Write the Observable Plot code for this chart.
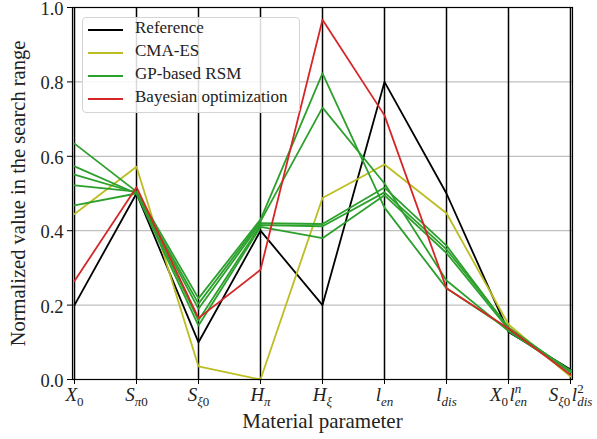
<!DOCTYPE html>
<html>
<head>
<meta charset="utf-8">
<script src="https://cdn.jsdelivr.net/npm/d3@7"></script>
<script src="https://cdn.jsdelivr.net/npm/@observablehq/plot@0.6"></script>
<style>
  body { margin: 0; background: #fff; }
  #wrap { position: relative; width: 597px; height: 439px; font-family: "Liberation Serif", serif; }
  #wrap svg, #wrap svg text { font-family: "Liberation Serif", serif !important; }
  #legend { position: absolute; left: 82px; top: 17px; width: 216px; height: 94px;
            border: 1px solid #d4d4d4; border-radius: 4px; background: rgba(255,255,255,0.85);
            font-family: "Liberation Serif", serif; font-size: 17px; color: #222; }
  .item { position: absolute; left: 0; height: 20px; }
  .item .sw { position: absolute; left: 5px; width: 35px; top: 0; height: 0; border-top: 2px solid; }
  .item .lb { position: absolute; left: 52px; top: -11px; white-space: nowrap; }
</style>
</head>
<body>
<div id="wrap"><div id="legend"></div></div>
<script>
// ---- data ----
const categories = ["X0", "Sπ0", "Sξ0", "Hπ", "Hξ", "len", "ldis", "X0 len^n", "Sξ0 ldis^2"];
const seriesNames = ["Reference", "CMA-ES", "GP-based RSM", "Bayesian optimization"];
const seriesColors = ["#000000", "#bcbd22", "#2ca02c", "#d62728"];
const yTicks = [0, 0.2, 0.4, 0.6, 0.8, 1.0];
const gridValues = [0.2, 0.4, 0.6, 0.8];

const reference = [0.20, 0.50, 0.10, 0.40, 0.20, 0.80, 0.50, 0.128, 0.027];
const cmaes     = [0.445, 0.572, 0.035, 0.0, 0.488, 0.578, 0.447, 0.148, 0.008];
const gp1       = [0.634, 0.505, 0.218, 0.430, 0.823, 0.462, 0.245, 0.135, 0.020];
const gp2       = [0.573, 0.500, 0.204, 0.425, 0.731, 0.527, 0.266, 0.130, 0.020];
const gp3       = [0.551, 0.502, 0.190, 0.420, 0.418, 0.516, 0.360, 0.138, 0.022];
const gp4       = [0.522, 0.505, 0.159, 0.415, 0.412, 0.503, 0.350, 0.140, 0.020];
const gp5       = [0.468, 0.500, 0.145, 0.410, 0.380, 0.495, 0.340, 0.135, 0.024];
const bayes     = [0.265, 0.517, 0.165, 0.295, 0.967, 0.710, 0.245, 0.137, 0.013];

// label tokens for math-style tick labels: s = n (normal), b (subscript), p (superscript)
const tickLabelParts = {
  "X0": [{t:"X", s:"n", it:true}, {t:"0", s:"b"}],
  "Sπ0": [{t:"S", s:"n", it:true}, {t:"π", s:"b", it:true}, {t:"0", s:"b"}],
  "Sξ0": [{t:"S", s:"n", it:true}, {t:"ξ", s:"b", it:true}, {t:"0", s:"b"}],
  "Hπ": [{t:"H", s:"n", it:true}, {t:"π", s:"b", it:true}],
  "Hξ": [{t:"H", s:"n", it:true}, {t:"ξ", s:"b", it:true}],
  "len": [{t:"l", s:"n", it:true}, {t:"en", s:"b", it:true}],
  "ldis": [{t:"l", s:"n", it:true}, {t:"dis", s:"b", it:true}],
  "X0 len^n": [{t:"X", s:"n", it:true}, {t:"0", s:"b"}, {t:"\u200Al", s:"n", it:true}, {t:"n", s:"p", it:true}, {t:"en", s:"b", it:true, stack:true}],
  "Sξ0 ldis^2": [{t:"S", s:"n", it:true}, {t:"ξ", s:"b", it:true}, {t:"0", s:"b"}, {t:"\u200Al", s:"n", it:true}, {t:"2", s:"p"}, {t:"dis", s:"b", it:true, stack:true}]
};

// ---- build table ----
const runs = [
  {series: "Reference", run: "ref", values: reference},
  {series: "CMA-ES", run: "cma", values: cmaes},
  {series: "GP-based RSM", run: "gp1", values: gp1},
  {series: "GP-based RSM", run: "gp2", values: gp2},
  {series: "GP-based RSM", run: "gp3", values: gp3},
  {series: "GP-based RSM", run: "gp4", values: gp4},
  {series: "GP-based RSM", run: "gp5", values: gp5},
  {series: "Bayesian optimization", run: "bo", values: bayes}
];
const rows = runs.flatMap(r => r.values.map((v, i) => ({series: r.series, run: r.run, param: categories[i], value: v})));

const serif = "'Liberation Serif', serif";
const chart = Plot.plot({
  width: 597,
  height: 439,
  marginLeft: 72,
  marginRight: 25,
  marginTop: 7,
  marginBottom: 60,
  style: {fontFamily: serif, fontSize: "19px", color: "#222", background: "white", overflow: "visible"},
  x: {type: "point", domain: categories, padding: 0},
  y: {domain: [0, 1]},
  color: {domain: seriesNames, range: seriesColors},
  marks: [
    Plot.ruleY(gridValues, {stroke: "#b0b0b0", strokeWidth: 1}),
    Plot.ruleX(categories, {stroke: "#000", strokeWidth: 1.5}),
    Plot.line(rows, {x: "param", y: "value", z: "run", stroke: "series", strokeWidth: 1.8}),
    Plot.frame({stroke: "#000", strokeWidth: 1.2}),
    Plot.axisY({ticks: yTicks, tickFormat: d3.format(".1f"), tickSize: 5, tickPadding: 4, label: null, fontSize: 18.5, fontFamily: serif, stroke: "#000"}),
    Plot.axisX({tickSize: 5, tickPadding: 3, label: null, fontSize: 19, fontFamily: serif, stroke: "#000"}),
    Plot.text(["Material parameter"], {frameAnchor: "bottom", dy: 48, fontSize: 21, fontFamily: serif, fill: "#222"}),
    Plot.text(["Normalized value in the search range"], {frameAnchor: "left", textAnchor: "middle", dx: -54, rotate: -90, fontSize: 20.5, fontFamily: serif, fill: "#222"})
  ]
});

const wrap = document.getElementById("wrap");
wrap.insertBefore(chart, wrap.firstChild);

// nudge y tick labels slightly down (as in the reference), ticks stay in place
d3.select(chart).selectAll('g[aria-label="y-axis tick label"]').attr("transform", function() {
  const t = this.getAttribute("transform") || "";
  return t + " translate(0,1.5)";
});

// math-style tick labels
const ns = "http://www.w3.org/2000/svg";
d3.select(chart).selectAll('g[aria-label="x-axis tick label"] text').each(function() {
  const key = this.textContent;
  const parts = tickLabelParts[key];
  if (!parts) return;
  while (this.firstChild) this.removeChild(this.firstChild);
  let cur = 0, lastW = 0;
  for (const p of parts) {
    const ts = document.createElementNS(ns, "tspan");
    ts.textContent = p.t;
    const size = p.s === "n" ? 19 : 13;
    const off = p.s === "b" ? 5 : p.s === "p" ? -8 : 0;
    ts.setAttribute("font-size", size);
    ts.setAttribute("font-style", p.it ? "italic" : "normal");
    ts.setAttribute("dy", off - cur);
    cur = off;
    if (p.stack) ts.setAttribute("dx", -lastW);
    this.appendChild(ts);
    if (p.s === "p") lastW = ts.getComputedTextLength();
  }
});

// legend
const legend = document.getElementById("legend");
const rowY = [11, 34, 57, 80];
seriesNames.forEach((name, i) => {
  const it = document.createElement("div");
  it.className = "item";
  it.style.top = rowY[i] + "px";
  const sw = document.createElement("div");
  sw.className = "sw";
  sw.style.borderTopColor = seriesColors[i];
  const lb = document.createElement("div");
  lb.className = "lb";
  lb.textContent = name;
  it.appendChild(sw); it.appendChild(lb);
  legend.appendChild(it);
});
</script>
</body>
</html>
